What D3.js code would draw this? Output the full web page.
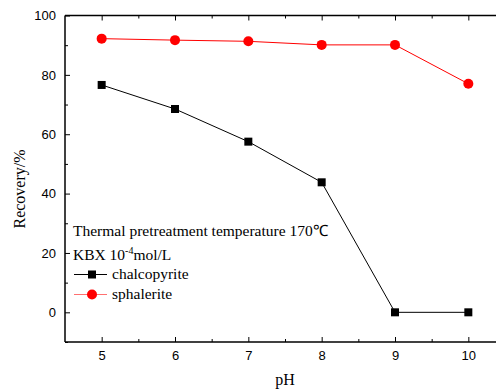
<!DOCTYPE html>
<html>
<head>
<meta charset="utf-8">
<script src="https://cdn.jsdelivr.net/npm/d3@7"></script>
<style>
    body { margin: 0; background: #fff; }
    svg { display: block; }
    .serif { font-family: 'Liberation Serif', 'Times New Roman', serif; }
    .sans { font-family: 'Liberation Sans', Arial, sans-serif; }
</style>
</head>
<body>
<svg id="chart" width="496" height="389"></svg>
<script>
const phValues = [5, 6, 7, 8, 9, 10];
const chalcopyrite = [76.6, 68.5, 57.5, 43.8, 0, 0];
const sphalerite = [92.2, 91.7, 91.3, 90.1, 90.1, 77.0];
const xTicks = [5, 6, 7, 8, 9, 10];
const yTicks = [0, 20, 40, 60, 80, 100];

const svg = d3.select("#chart");
const x = d3.scaleLinear().domain([4.5, 10.5]).range([65, 505]);
const y = d3.scaleLinear().domain([-10, 100]).range([342, 15.5]);

// frame: bottom, left, top
const frame = svg.append("g").attr("stroke", "#000").attr("stroke-width", 1.5);
frame.append("line").attr("x1", x(4.5)).attr("x2", 496).attr("y1", y(-10)).attr("y2", y(-10));
frame.append("line").attr("x1", x(4.5)).attr("x2", x(4.5)).attr("y1", y(-10)).attr("y2", y(100));
frame.append("line").attr("x1", x(4.5)).attr("x2", 496).attr("y1", y(100)).attr("y2", y(100));

// bottom axis, inward ticks
let bottomAxis = svg.append("g").attr("transform", `translate(0,${y(-10)})`)
    .call(d3.axisBottom(x).tickValues(xTicks).tickSize(-5).tickPadding(9).tickFormat(d3.format("d")));
bottomAxis.select(".domain").remove();
bottomAxis.attr("font-family", null).attr("class", "sans");
bottomAxis.selectAll("text").attr("font-size", 13).attr("fill", "#000");
let bottomMinor = svg.append("g").attr("transform", `translate(0,${y(-10)})`)
    .call(d3.axisBottom(x).tickValues([5.5, 6.5, 7.5, 8.5, 9.5]).tickSize(-3).tickFormat(""));
bottomMinor.select(".domain").remove();

// top axis, inward ticks without labels
let topAxis = svg.append("g").attr("transform", `translate(0,${y(100)})`)
    .call(d3.axisTop(x).tickValues(xTicks).tickSize(-5).tickFormat(""));
topAxis.select(".domain").remove();
let topMinor = svg.append("g").attr("transform", `translate(0,${y(100)})`)
    .call(d3.axisTop(x).tickValues([5.5, 6.5, 7.5, 8.5, 9.5]).tickSize(-3).tickFormat(""));
topMinor.select(".domain").remove();

// left axis, inward ticks
let leftAxis = svg.append("g").attr("transform", `translate(${x(4.5)},0)`)
    .call(d3.axisLeft(y).tickValues(yTicks).tickSize(-5).tickPadding(9));
leftAxis.select(".domain").remove();
leftAxis.attr("font-family", null).attr("class", "sans");
leftAxis.selectAll("text").attr("font-size", 13).attr("fill", "#000");
let leftMinor = svg.append("g").attr("transform", `translate(${x(4.5)},0)`)
    .call(d3.axisLeft(y).tickValues([-10, 10, 30, 50, 70, 90]).tickSize(-3).tickFormat(""));
leftMinor.select(".domain").remove();
svg.selectAll(".tick line").attr("stroke", "#000").attr("stroke-width", 1);

// axis titles
svg.append("text").attr("class", "serif").attr("x", 285).attr("y", 385).attr("text-anchor", "middle")
    .attr("font-size", 16).text("pH");
svg.append("text").attr("class", "serif").attr("transform", "translate(25,189) rotate(-90)")
    .attr("text-anchor", "middle").attr("font-size", 16).text("Recovery/%");

// series
const line = d3.line().x((d, i) => x(phValues[i])).y(d => y(d));
svg.append("path").datum(chalcopyrite).attr("d", line)
    .attr("fill", "none").attr("stroke", "#000").attr("stroke-width", 1);
svg.append("path").datum(sphalerite).attr("d", line)
    .attr("fill", "none").attr("stroke", "#ff0000").attr("stroke-width", 1);

svg.append("g").selectAll("rect").data(chalcopyrite).enter().append("rect")
    .attr("x", (d, i) => x(phValues[i]) - 4)
    .attr("y", d => y(d) - 4)
    .attr("width", 8).attr("height", 8).attr("fill", "#000");
svg.append("g").selectAll("circle").data(sphalerite).enter().append("circle")
    .attr("cx", (d, i) => x(phValues[i]))
    .attr("cy", d => y(d))
    .attr("r", 5).attr("fill", "#ff0000");

// legend
const legend = svg.append("g").attr("class", "serif").attr("font-size", 15.5).attr("fill", "#000");
const t1 = legend.append("text").attr("x", 73).attr("y", 236);
t1.append("tspan").text("Thermal pretreatment temperature 170");
t1.append("tspan").text("℃");
const t2 = legend.append("text").attr("x", 73).attr("y", 260);
t2.append("tspan").text("KBX 10");
t2.append("tspan").attr("font-size", 10).attr("dy", -6).text("-4");
t2.append("tspan").attr("dy", 6).text("mol/L");

legend.append("line").attr("x1", 74).attr("x2", 107).attr("y1", 274.5).attr("y2", 274.5)
    .attr("stroke", "#000").attr("stroke-width", 1);
legend.append("rect").attr("x", 88).attr("y", 270.5).attr("width", 8).attr("height", 8).attr("fill", "#000");
legend.append("text").attr("x", 112).attr("y", 279).text("chalcopyrite");

legend.append("line").attr("x1", 74).attr("x2", 107).attr("y1", 294.5).attr("y2", 294.5)
    .attr("stroke", "#ff7070").attr("stroke-width", 1.2);
legend.append("circle").attr("cx", 92).attr("cy", 294.5).attr("r", 5).attr("fill", "#ff0000");
legend.append("text").attr("x", 112).attr("y", 299).text("sphalerite");
</script>
</body>
</html>
